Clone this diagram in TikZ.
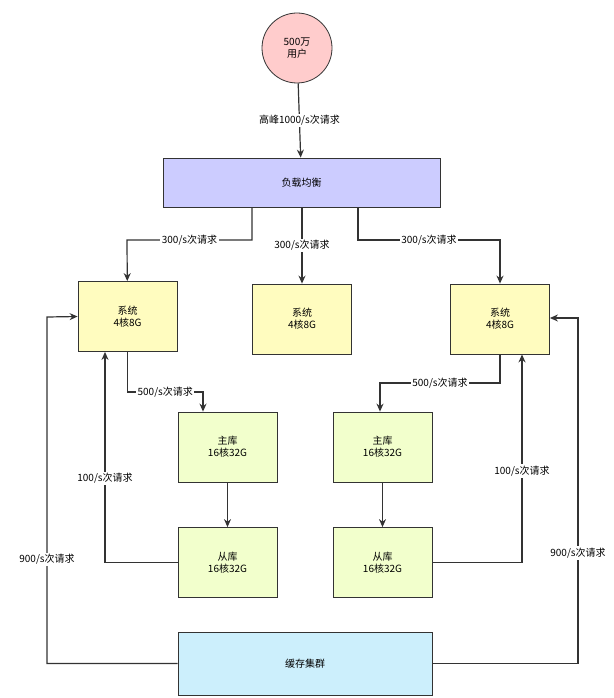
\documentclass[tikz,border=0pt]{standalone}
\usepackage{fontspec}
\setmainfont{Noto Sans CJK SC}
\usetikzlibrary{arrows.meta}
\begin{document}
\begin{tikzpicture}[x=1pt,y=-1pt,
  box/.style={draw=black!80,thick,align=center,font=\fontsize{10}{12}\selectfont,inner sep=0pt},
  link/.style={draw=black!80,very thick,-{Stealth[length=8pt,width=7pt]}},
  lbl/.style={fill=white,inner sep=1.5pt,font=\fontsize{10}{11}\selectfont}]
\useasboundingbox (0,0) rectangle (613,698);
\node[box,circle,fill=red!20,minimum size=70pt] (user) at (297,48) {500万\\用户};
\node[box,fill=blue!20,minimum width=277pt,minimum height=49pt] (lb) at (301.5,182.5) {负载均衡};
\tikzset{sys/.style={box,fill=yellow!25,minimum width=99pt,minimum height=70pt},
  db/.style={box,fill=lime!20,minimum width=99pt,minimum height=70pt}}
\node[sys] (s1) at (127.5,316.5) {系统\\4核8G};
\node[sys] (s2) at (302,319) {系统\\4核8G};
\node[sys] (s3) at (500,319) {系统\\4核8G};
\node[db] (m1) at (227.5,447) {主库\\16核32G};
\node[db] (m2) at (382.5,447) {主库\\16核32G};
\node[db] (sl1) at (227.5,562.5) {从库\\16核32G};
\node[db] (sl2) at (382.5,562.5) {从库\\16核32G};
\node[box,fill=cyan!20,minimum width=254pt,minimum height=63pt] (cache) at (305,663.5) {缓存集群};
\coordinate (lbl1) at (252,207); \coordinate (lbr) at (358,207);
\draw[link] (user) -- node[lbl]{高峰1000/s次请求} (lb);
\draw[link] (lbl1) |- (127,240) node[lbl,pos=0.75]{300/s次请求} -- (s1);
\draw[link] (lb.south -| s2) -- node[lbl,pos=0.5]{300/s次请求} (s2);
\draw[link] (lbr) |- (500,240) node[lbl,pos=0.75]{300/s次请求} -- (s3);
\draw[link] (s1.south) |- (203,392) node[lbl,pos=0.75]{500/s次请求} -- (m1.north -| 203,0);
\draw[link] (s3.south) |- (380,383) node[lbl,pos=0.75]{500/s次请求} -- (m2.north -| 380,0);
\draw[link] (m1) -- (sl1);
\draw[link] (m2) -- (sl2);
\draw[link] (sl1.west) -| node[lbl,pos=0.7]{100/s次请求} (s1.south -| 105,0);
\draw[link] (sl2.east) -| node[lbl,pos=0.72]{100/s次请求} (s3.south -| 522,0);
\draw[link] (cache.west) -| (47,317) node[lbl,pos=0.65]{900/s次请求} -- (s1.west);
\draw[link] (cache.east) -| (578,318) node[lbl,pos=0.66]{900/s次请求} -- (s3.east |- 0,318);
\end{tikzpicture}
\end{document}
